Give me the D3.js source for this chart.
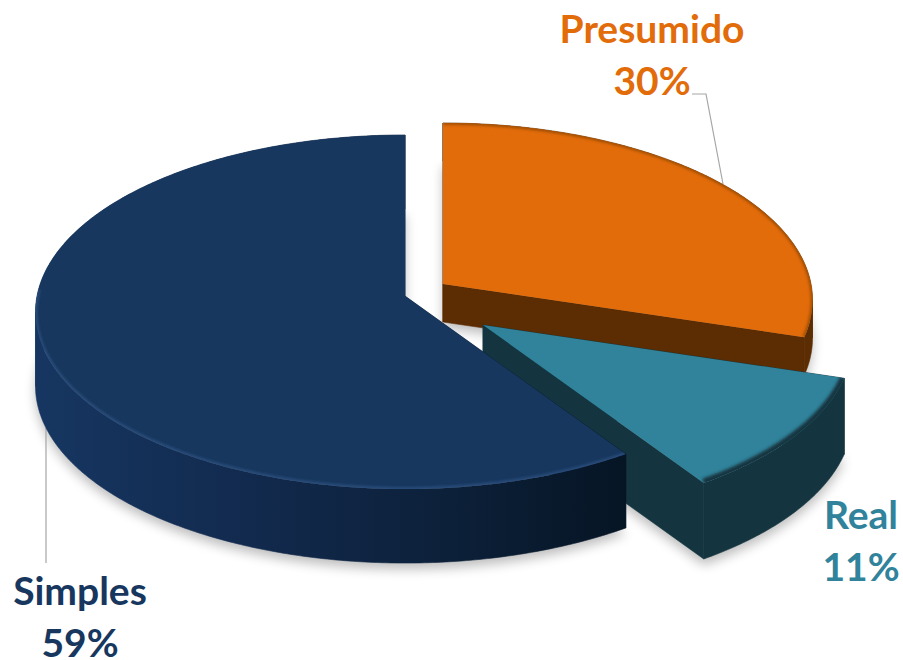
<!DOCTYPE html>
<html>
<head>
<meta charset="utf-8">
<script src="https://cdn.jsdelivr.net/npm/d3@7"></script>
<style>
    html, body { margin: 0; padding: 0; background: #fff; }
    text { font-family: Lato, "Open Sans", sans-serif; font-weight: 700; }
</style>
</head>
<body>
<script>
//chart data, clockwise from 12 o'clock
var categories = ["Presumido", "Real", "Simples"];
var shares = [30, 11, 59];

//colours per slice
var topColors = ["#e26b0a", "#30839b", "#17375e"];
var wallColors = ["#5c2c02", "#14353f", "url(#simplesWall)"];
var rimColors = ["#8f4605", "#14353f", "#2f5384"];
var labelColors = ["#e26b0a", "#30839b", "#17375e"];
var rimWidths = [3, 9, 3];

//each slice is pulled out of the pie by hand, so it has its own apex and depth
var apexX = [443, 483, 405],
    apexY = [284, 325, 296],
    depths = [38, 76, 74];

//where the two text lines of each label go
var labelX = [652, 861, 80],
    labelY = [43, 529, 605];

var width = 903,
    height = 660;

//tilted disc with some perspective: the near side looks larger
var radius = 368,
    tilt = 175.6,
    persp = 0.0904,
    warp = 0.025;

function project(angle) {
    var a = angle + warp * Math.sin(2 * angle);
    var w = 1 + persp * Math.cos(a);
    return [
        radius * Math.sin(a) / w,
        -tilt * Math.cos(a) / w
    ];
}

function arcPoints(a0, a1) {
    var n = Math.ceil((a1 - a0) / 0.01);
    return d3.range(n + 1).map(function(i) {
        return project(a0 + (a1 - a0) * i / n);
    });
}

//cut the arc where it turns back in x, else the swept band folds over itself
function monotoneRuns(arc) {
    var runs = [[arc[0]]],
        dir = 0;
    d3.pairs(arc).forEach(function(p) {
        var s = Math.sign(p[1][0] - p[0][0]);
        if (dir && s !== dir) runs.push([p[0]]);
        dir = s;
        runs[runs.length - 1].push(p[1]);
    });
    return runs;
}

var line = d3.line().curve(d3.curveLinear);

function topOutline(d) {
    return [[0, 0]].concat(arcPoints(d.startAngle, d.endAngle));
}

var pie = d3.pie().sort(null);
var slices = pie(shares);

var svg = d3.select("body")
    .append("svg")
    .style("display", "block")
    .attr("width", width)
    .attr("height", height);

var defs = svg.append("defs");

defs.append("filter")
    .attr("id", "soft")
    .attr("x", "-20%").attr("y", "-20%")
    .attr("width", "140%").attr("height", "140%")
    .append("feGaussianBlur")
    .attr("stdDeviation", 6);

defs.append("filter")
    .attr("id", "rim")
    .attr("x", "-10%").attr("y", "-10%")
    .attr("width", "120%").attr("height", "120%")
    .append("feGaussianBlur")
    .attr("stdDeviation", 1.5);

//the slice groups are translated, so this gradient is in local coordinates
var wallGrad = defs.append("linearGradient")
    .attr("id", "simplesWall")
    .attr("gradientUnits", "userSpaceOnUse")
    .attr("x1", -radius).attr("x2", 222)
    .attr("y1", 0).attr("y2", 0);
[["0", "#163661"], ["0.35", "#122a4e"], ["0.7", "#0c2039"], ["1", "#061524"]].forEach(function(d) {
    wallGrad.append("stop").attr("offset", d[0]).attr("stop-color", d[1]);
});

slices.forEach(function(d, i) {
    defs.append("clipPath")
        .attr("id", "topClip" + i)
        .append("path")
        .attr("d", line(topOutline(d)) + "Z");
});

//shadows go below everything
var shadows = svg.append("g").attr("class", "shadows");
shadows.selectAll("path")
    .data(slices)
    .enter()
    .append("path")
    .attr("transform", function(d, i) {
        return "translate(" + apexX[i] + "," + (apexY[i] + depths[i] + 6) + ")";
    })
    .attr("d", function(d) {
        return line(topOutline(d)) + "Z";
    })
    .attr("fill", "#000")
    .attr("opacity", 0.26)
    .attr("filter", "url(#soft)");

//leader lines
var leaders = [
    [[692, 94], [706, 94], [723, 184]],
    [[46, 428], [46, 563]]
];
svg.selectAll(".leader")
    .data(leaders)
    .enter()
    .append("path")
    .attr("class", "leader")
    .attr("d", line)
    .attr("fill", "none")
    .attr("stroke", "#a6a6a6")
    .attr("stroke-width", 1.2);

//slices back to front, in data order
var slice = svg.selectAll(".slice")
    .data(slices)
    .enter()
    .append("g")
    .attr("class", "slice")
    .attr("transform", function(d, i) {
        return "translate(" + apexX[i] + "," + apexY[i] + ")";
    });

//walls: outer bands plus the two cut faces
slice.each(function(d, i) {
    var arc = arcPoints(d.startAngle, d.endAngle);
    var down = function(p) { return [p[0], p[1] + depths[i]]; };
    var first = arc[0],
        last = arc[arc.length - 1],
        apex = [0, 0];
    var faces = [
        [apex, first, down(first), down(apex)],
        [apex, last, down(last), down(apex)]
    ].concat(monotoneRuns(arc).map(function(run) {
        return run.concat(run.slice().reverse().map(down));
    }));
    d3.select(this).selectAll(".wall")
        .data(faces)
        .enter()
        .append("path")
        .attr("class", "wall")
        .attr("d", function(s) { return line(s) + "Z"; })
        .attr("fill", wallColors[i])
        .attr("stroke", wallColors[i])
        .attr("stroke-width", 0.6);
});

slice.append("path")
    .attr("class", "top")
    .attr("d", function(d) {
        return line(topOutline(d)) + "Z";
    })
    .attr("fill", function(d, i) { return topColors[i]; });

//soft bevel along the outer rim, kept inside the top face
//the back of the big slice has none
slice.append("g")
    .attr("clip-path", function(d, i) { return "url(#topClip" + i + ")"; })
    .append("path")
    .attr("d", function(d) {
        return line(arcPoints(d.startAngle, Math.min(d.endAngle, 4.75)));
    })
    .attr("fill", "none")
    .attr("stroke", function(d, i) { return rimColors[i]; })
    .attr("stroke-width", function(d, i) { return rimWidths[i]; })
    .attr("filter", "url(#rim)");

//labels
var label = svg.selectAll(".label")
    .data(categories)
    .enter()
    .append("text")
    .attr("class", "label")
    .attr("text-anchor", "middle")
    .attr("font-size", 39)
    .attr("fill", function(d, i) { return labelColors[i]; });

label.append("tspan")
    .attr("x", function(d, i) { return labelX[i]; })
    .attr("y", function(d, i) { return labelY[i]; })
    .text(function(d) { return d; });

label.append("tspan")
    .attr("x", function(d, i) { return labelX[i]; })
    .attr("dy", 52)
    .text(function(d, i) { return shares[i] + "%"; });
</script>
</body>
</html>
